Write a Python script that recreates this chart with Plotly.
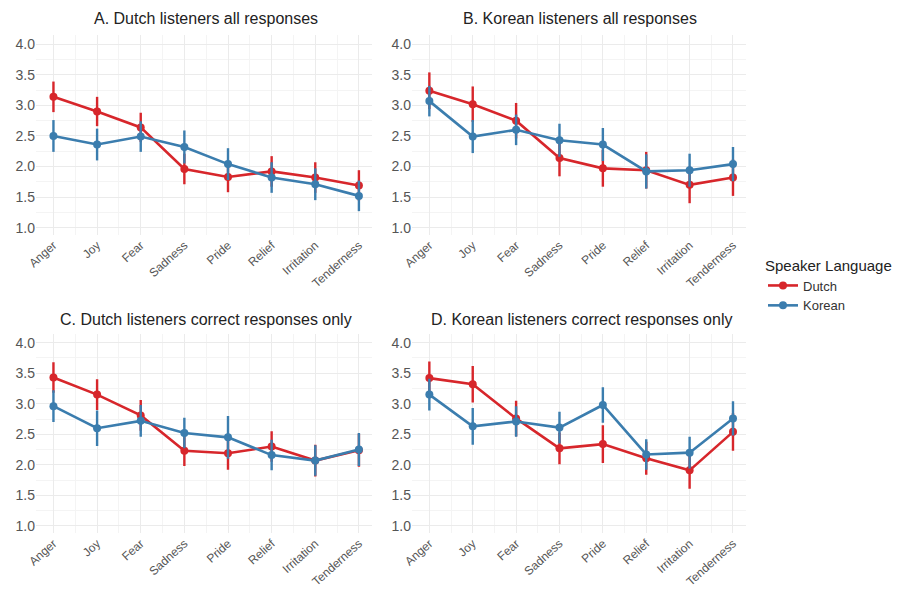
import plotly.graph_objects as go

categories = ["Anger", "Joy", "Fear", "Sadness", "Pride", "Relief", "Irritation", "Tenderness"]
speakers = ["Dutch", "Korean"]
panel_titles = [
    "A. Dutch listeners all responses",
    "B. Korean listeners all responses",
    "C. Dutch listeners correct responses only",
    "D. Korean listeners correct responses only",
]

# Panel A
a_dutch = [3.14, 2.90, 2.64, 1.96, 1.83, 1.92, 1.82, 1.69]
a_dutch_err = [0.25, 0.24, 0.24, 0.25, 0.25, 0.25, 0.25, 0.25]
a_korean = [2.50, 2.36, 2.49, 2.32, 2.04, 1.82, 1.71, 1.52]
a_korean_err = [0.26, 0.26, 0.25, 0.27, 0.26, 0.25, 0.26, 0.25]
# Panel B
b_dutch = [3.24, 3.02, 2.75, 2.14, 1.97, 1.94, 1.70, 1.82]
b_dutch_err = [0.30, 0.29, 0.29, 0.30, 0.30, 0.30, 0.30, 0.30]
b_korean = [3.07, 2.49, 2.60, 2.43, 2.36, 1.92, 1.94, 2.04]
b_korean_err = [0.25, 0.27, 0.25, 0.27, 0.27, 0.28, 0.27, 0.28]
# Panel C
c_dutch = [3.43, 3.15, 2.81, 2.23, 2.19, 2.30, 2.07, 2.24]
c_dutch_err = [0.25, 0.25, 0.25, 0.25, 0.27, 0.25, 0.26, 0.27]
c_korean = [2.96, 2.60, 2.72, 2.52, 2.45, 2.16, 2.07, 2.25]
c_korean_err = [0.26, 0.29, 0.26, 0.25, 0.35, 0.25, 0.25, 0.27]
# Panel D
d_dutch = [3.42, 3.32, 2.76, 2.27, 2.34, 2.11, 1.91, 2.54]
d_dutch_err = [0.27, 0.30, 0.29, 0.26, 0.31, 0.27, 0.30, 0.31]
d_korean = [3.15, 2.63, 2.71, 2.61, 2.98, 2.17, 2.20, 2.76]
d_korean_err = [0.26, 0.30, 0.25, 0.26, 0.29, 0.25, 0.26, 0.28]

panels = [
    (a_dutch, a_dutch_err, a_korean, a_korean_err),
    (b_dutch, b_dutch_err, b_korean, b_korean_err),
    (c_dutch, c_dutch_err, c_korean, c_korean_err),
    (d_dutch, d_dutch_err, d_korean, d_korean_err),
]

colors = {"Dutch": "#D7262B", "Korean": "#3B7DAE"}
FONT = "Liberation Sans, Arial, sans-serif"

W, H = 897, 593
xdomains = [[36 / W, 372 / W], [412 / W, 746 / W]]
ydomains = [[1 - 235.0 / H, 1 - 35.1 / H], [1 - 533.3 / H, 1 - 333.5 / H]]

xpos = list(range(len(categories)))

fig = go.Figure()
layout = {}
for i, (dv, de, kv, ke) in enumerate(panels):
    row, col = divmod(i, 2)
    n = "" if i == 0 else str(i + 1)
    xa, ya = "x" + n, "y" + n
    for sp, vals, errs in (("Dutch", dv, de), ("Korean", kv, ke)):
        fig.add_trace(go.Scatter(
            x=xpos, y=vals, mode="lines+markers", name=sp,
            legendgroup=sp, showlegend=(i == 0),
            line=dict(color=colors[sp], width=2.6),
            marker=dict(color=colors[sp], size=8),
            error_y=dict(type="data", array=errs, visible=True,
                         color=colors[sp], thickness=2.4, width=0),
            xaxis=xa, yaxis=ya,
        ))
    layout["xaxis" + n] = dict(
        domain=xdomains[col], anchor=ya, range=[-0.4, 7.3], automargin=False,
        tickmode="array", tickvals=xpos, ticktext=categories,
        tickangle=-42, tickfont=dict(size=12, color="#555555", family=FONT),
        showgrid=True, gridcolor="#ebebeb", gridwidth=1, zeroline=False,
        showline=False, ticks="",
        minor=dict(dtick=0.5, tick0=0.5, showgrid=True, gridcolor="#f4f4f4", gridwidth=1),
    )
    layout["yaxis" + n] = dict(
        domain=ydomains[row], anchor=xa, range=[0.88, 4.15], automargin=False,
        tick0=1.0, dtick=0.5, tickformat=".1f",
        tickfont=dict(size=14, color="#555555", family=FONT),
        showgrid=True, gridcolor="#ebebeb", gridwidth=1, zeroline=False,
        showline=False, ticks="",
        minor=dict(dtick=0.25, tick0=1.0, showgrid=True, gridcolor="#f4f4f4", gridwidth=1),
    )

title_pos = [(206, 19), (580, 19), (206, 319), (581, 319)]
annotations = []
for t, (tx, ty) in zip(panel_titles, title_pos):
    annotations.append(dict(
        text=t, x=tx / W, y=1 - ty / H, xref="paper", yref="paper",
        xanchor="center", yanchor="middle", showarrow=False,
        font=dict(size=16, color="#222222", family=FONT),
    ))

fig.update_layout(
    width=W, height=H,
    margin=dict(l=0, r=0, t=0, b=0),
    paper_bgcolor="white", plot_bgcolor="white",
    annotations=annotations,
    legend=dict(
        title=dict(text="Speaker Language", font=dict(size=15, color="#222222", family=FONT)),
        x=763 / W, y=1 - 251 / H, xanchor="left", yanchor="top",
        font=dict(size=13, color="#333333", family=FONT),
        itemwidth=30, tracegroupgap=0, bgcolor="rgba(0,0,0,0)",
    ),
    **layout,
)

fig.write_html("out.html")
